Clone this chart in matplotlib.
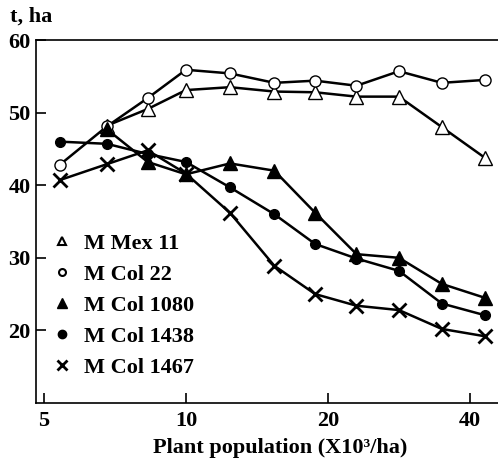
import numpy as np
import matplotlib
matplotlib.use("Agg")
import matplotlib.pyplot as plt
from matplotlib.lines import Line2D

# data (plant population, thousands per ha)
population = [5.4, 6.8, 8.3, 10.0, 12.4, 15.4, 18.8, 23.0, 28.3, 34.9, 43.0]
mex11 = [np.nan, 48.2, 50.5, 53.1, 53.5, 52.9, 52.8, 52.2, 52.2, 48.0, 43.8]
col22 = [42.8, 48.1, 52.0, 55.9, 55.4, 54.1, 54.4, 53.7, 55.7, 54.1, 54.5]
col1080 = [np.nan, 47.7, 43.2, 41.5, 43.0, 42.0, 36.2, 30.5, 30.0, 26.4, 24.5]
col1438 = [46.0, 45.7, 44.3, 43.2, 39.7, 36.0, 31.9, 29.9, 28.2, 23.7, 22.1]
col1467 = [40.7, 42.9, 44.8, 41.6, 36.2, 28.9, 25.0, 23.4, 22.8, 20.2, 19.2]

labels = ["M Mex 11", "M Col 22", "M Col 1080", "M Col 1438", "M Col 1467"]
xticks = [5, 10, 20, 40]
yticks = [20, 30, 40, 50, 60]

plt.rcParams['font.family'] = ['Liberation Serif', 'DejaVu Serif']
plt.rcParams['font.weight'] = 'bold'
FS = 16

fig = plt.figure(figsize=(4.98, 4.69), dpi=100)
W, H = 498, 469
# axes runs off the right edge like the scan
ax = fig.add_axes([36 / W, 1 - 403 / H, 1 - 36 / W, (403 - 40) / H])

styles = [
    (mex11, dict(marker='^', markersize=10, markerfacecolor='white')),
    (col22, dict(marker='o', markersize=8, markerfacecolor='white')),
    (col1080, dict(marker='^', markersize=10, markerfacecolor='black')),
    (col1438, dict(marker='o', markersize=7, markerfacecolor='black')),
    (col1467, dict(marker='x', markersize=10, markeredgewidth=2)),
]
for vals, kw in styles:
    ax.plot(population, vals, color='black', lw=1.8, markeredgecolor='black', **kw)

ax.set_xscale('log')
ax.set_xlim(4.81, 45.9)
ax.set_ylim(10, 60)
ax.set_xticks(xticks)
ax.set_xticklabels([str(t) for t in xticks])
ax.minorticks_off()
ax.set_yticks(yticks)
ax.tick_params(direction='in', length=7, width=1.2, labelsize=FS, pad=4)
ax.tick_params(axis='x', pad=6)
ax.spines['right'].set_visible(False)
for s in ['left', 'bottom', 'top']:
    ax.spines[s].set_linewidth(1.2)

handles = [
    Line2D([], [], ls='none', marker='^', ms=6, mfc='white', mec='black', mew=1.5),
    Line2D([], [], ls='none', marker='o', ms=5, mfc='white', mec='black', mew=1.5),
    Line2D([], [], ls='none', marker='^', ms=7, mfc='black', mec='black'),
    Line2D([], [], ls='none', marker='o', ms=6, mfc='black', mec='black'),
    Line2D([], [], ls='none', marker='x', ms=7, mec='black', mew=2),
]
fig.legend(handles, labels, loc='upper left', bbox_to_anchor=(52 / W, 1 - 233 / H),
           frameon=False, fontsize=FS, handlelength=0.9, handletextpad=0.55,
           labelspacing=0.47, borderpad=0, borderaxespad=0)

fig.text(10 / W, 1 - 17 / H, "t, ha", fontsize=FS, ha='left', va='center')
fig.text(280 / W, 1 - 448 / H, "Plant population (X10\u00b3/ha)", fontsize=FS,
         ha='center', va='center')

fig.savefig("out.png", dpi=100)
